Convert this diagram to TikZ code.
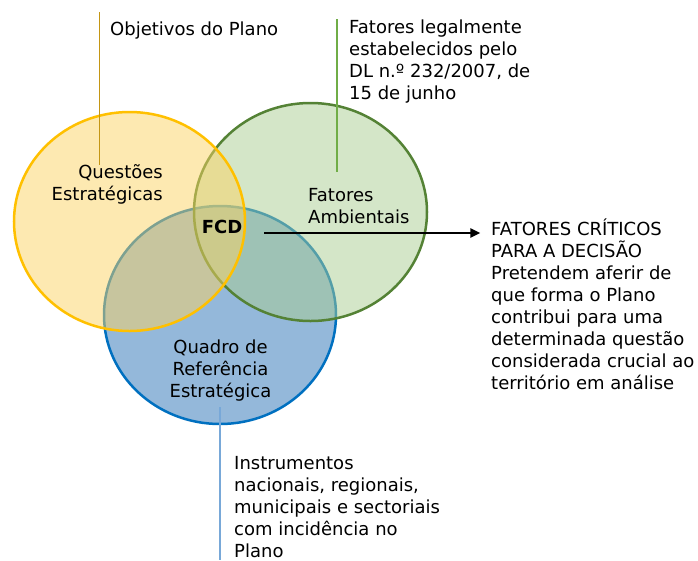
\documentclass[tikz,border=0pt]{standalone}
\usepackage{fontspec}
\setmainfont{DejaVu Sans}
\usetikzlibrary{shapes.geometric,arrows.meta}
\definecolor{yfill}{RGB}{251,211,99}
\definecolor{ystroke}{RGB}{255,192,0}
\definecolor{gfill}{RGB}{169,205,145}
\definecolor{gstroke}{RGB}{84,130,53}
\definecolor{bfill}{RGB}{148,184,218}
\definecolor{bstroke}{RGB}{0,112,192}
\definecolor{yline}{RGB}{196,150,20}
\definecolor{gline}{RGB}{112,173,71}
\definecolor{bline}{RGB}{120,168,216}
\newcommand\dtxt{\fontsize{18}{22}\selectfont}
\begin{document}
\begin{tikzpicture}[x=1pt,y=-1pt,
  venn/.style={ellipse,draw,line width=2.5pt,inner sep=0pt},
  lbl/.style={inner sep=0pt,font=\dtxt,text=black},
  leader/.style={line width=1.5pt},
  arr/.style={line width=2.3pt,-{Triangle[length=10pt,width=9pt]}}]
\useasboundingbox (0,0) rectangle (698,560);
% circles
\node[venn,fill=bfill,draw=bstroke,minimum width=232pt,minimum height=218pt] (bc) at (220,315) {};
\node[venn,fill=gfill,fill opacity=0.5,draw=gstroke,minimum width=233pt,minimum height=218pt] (gc) at (310.5,212) {};
\node[venn,fill=yfill,fill opacity=0.5,draw=ystroke,minimum width=231pt,minimum height=219pt] (yc) at (129.5,221.5) {};
% leaders
\coordinate (yl1) at (99.5,12);  \coordinate (yl2) at (99.5,165);
\coordinate (gl1) at (337,19);   \coordinate (gl2) at (337,172);
\coordinate (bl1) at (220,407);  \coordinate (bl2) at (220,560);
\draw[leader,yline] (yl1) -- (yl2);
\draw[leader,gline] (gl1) -- (gl2);
\draw[leader,bline] (bl1) -- (bl2);
% texts
\node[lbl,anchor=north west] (obj) at (110,21.3) {Objetivos do Plano};
\node[lbl,anchor=north west,align=left] (leg) at (349,19.6) {Fatores legalmente\\estabelecidos pelo\\DL n.º 232/2007, de\\15 de junho};
\node[lbl,anchor=north east,align=right] (qe) at (163,164.6) {Questões\\Estratégicas};
\node[lbl,anchor=north west,align=left] (fa) at (308,188.6) {Fatores\\Ambientais};
\node[lbl,anchor=north,align=center] (qr) at (220.5,339.6) {Quadro de\\Referência\\Estratégica};
\node[lbl,font=\dtxt\bfseries] (fcd) at (222,227.3) {FCD};
\node[lbl,anchor=north west,align=left] (rt) at (491,218.5) {FATORES CRÍTICOS\\PARA A DECISÃO\\Pretendem aferir de\\que forma o Plano\\contribui para uma\\determinada questão\\considerada crucial ao\\território em análise};
\node[lbl,anchor=north west,align=left] (inst) at (234,456) {Instrumentos\\nacionais, regionais,\\municipais e sectoriais\\com incidência no\\Plano};
% arrow
\draw[arr] ([xshift=22pt,yshift=-5.7pt]fcd.east) -- ++(216pt,0pt);
\end{tikzpicture}
\end{document}
